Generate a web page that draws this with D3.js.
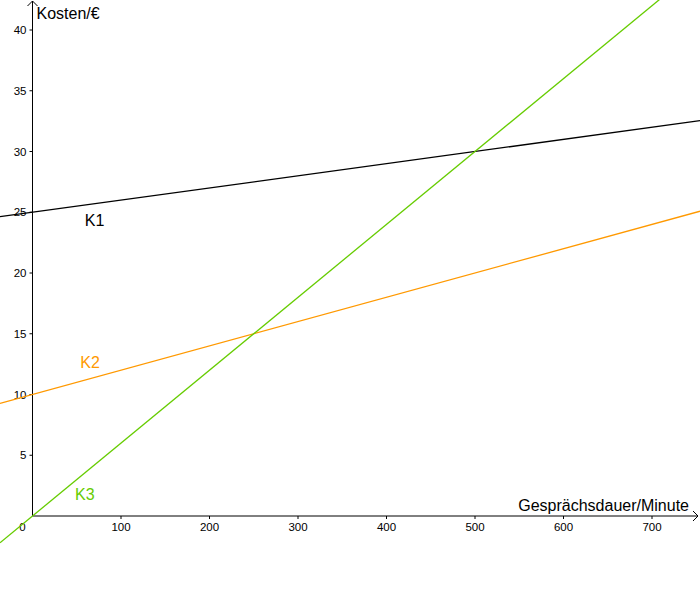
<!DOCTYPE html>
<html>
<head>
<meta charset="utf-8">
<script src="https://cdn.jsdelivr.net/npm/d3@7"></script>
<style>
  body { margin: 0; background: #fff; }
  svg { font-family: "Liberation Sans", Arial, sans-serif; }
</style>
</head>
<body>
<div id="chart"></div>
<script>
const width = 700, height = 599;

// data
const xTicks = [100, 200, 300, 400, 500, 600, 700];
const yTicks = [5, 10, 15, 20, 25, 30, 35, 40];
const lineNames = ["K1", "K2", "K3"];
const lineColors = ["#000000", "#ff9900", "#66cc00"];
const fixedCost = [25, 10, 0];      // Euro
const perMinute = [0.01, 0.02, 0.06]; // Euro per minute
const labelAt = [[59, 23.9], [54, 12.2], [48, 1.3]];

let x = d3.scaleLinear().domain([0, 700]).range([32.5, 652]);
let y = d3.scaleLinear().domain([0, 40]).range([516, 30]);

let svg = d3.select("#chart")
    .append("svg")
    .attr("width", width)
    .attr("height", height);

// axes (only the positive part, as in the original)
let x0 = x(0), y0 = y(0);
svg.append("line")
    .attr("x1", x0).attr("x2", width - 2)
    .attr("y1", y0).attr("y2", y0)
    .attr("stroke", "#000").attr("stroke-width", 1);
svg.append("line")
    .attr("x1", x0).attr("x2", x0)
    .attr("y1", y0).attr("y2", 1)
    .attr("stroke", "#000").attr("stroke-width", 1);

// arrowheads
svg.append("path")
    .attr("d", `M${width - 7},${y0 - 5} L${width - 2},${y0} L${width - 7},${y0 + 5}`)
    .attr("fill", "none").attr("stroke", "#000");
svg.append("path")
    .attr("d", `M${x0 - 5},${6} L${x0},${1} L${x0 + 5},${6}`)
    .attr("fill", "none").attr("stroke", "#000");

// x ticks
let xt = svg.append("g");
xt.selectAll("line").data(xTicks).enter().append("line")
    .attr("x1", d => x(d)).attr("x2", d => x(d))
    .attr("y1", y0).attr("y2", y0 + 3)
    .attr("stroke", "#000");
xt.selectAll("text").data(xTicks).enter().append("text")
    .attr("x", d => x(d)).attr("y", y0 + 15)
    .style("text-anchor", "middle")
    .style("font-size", "11.5px")
    .text(d => d);
svg.append("text")
    .attr("x", x0 - 10).attr("y", y0 + 15)
    .style("text-anchor", "middle")
    .style("font-size", "11.5px")
    .text("0");

// y ticks
let yt = svg.append("g");
yt.selectAll("line").data(yTicks).enter().append("line")
    .attr("x1", x0 - 3).attr("x2", x0)
    .attr("y1", d => y(d)).attr("y2", d => y(d))
    .attr("stroke", "#000");
yt.selectAll("text").data(yTicks).enter().append("text")
    .attr("x", x0 - 6).attr("y", d => y(d) + 4)
    .style("text-anchor", "end")
    .style("font-size", "11.5px")
    .text(d => d);

// axis labels
svg.append("text")
    .attr("x", x0 + 4).attr("y", 19)
    .style("font-size", "16px")
    .text("Kosten/€");
svg.append("text")
    .attr("x", width - 11).attr("y", y0 - 5)
    .style("text-anchor", "end")
    .style("font-size", "16px")
    .text("Gesprächsdauer/Minute");

// cost lines
let xMin = x.invert(0), xMax = x.invert(width);
let defs = svg.append("defs");
defs.append("clipPath").attr("id", "plot")
    .append("rect").attr("x", 0).attr("y", 0).attr("width", width).attr("height", height);

let lines = svg.append("g").attr("clip-path", "url(#plot)");
lineNames.forEach(function (name, i) {
    let f = t => fixedCost[i] + perMinute[i] * t;
    lines.append("line")
        .attr("x1", x(xMin)).attr("y1", y(f(xMin)))
        .attr("x2", x(xMax)).attr("y2", y(f(xMax)))
        .attr("stroke", lineColors[i])
        .attr("stroke-width", 1.3);
    svg.append("text")
        .attr("x", x(labelAt[i][0])).attr("y", y(labelAt[i][1]))
        .attr("fill", lineColors[i])
        .style("font-size", "16px")
        .text(name);
});
</script>
</body>
</html>
